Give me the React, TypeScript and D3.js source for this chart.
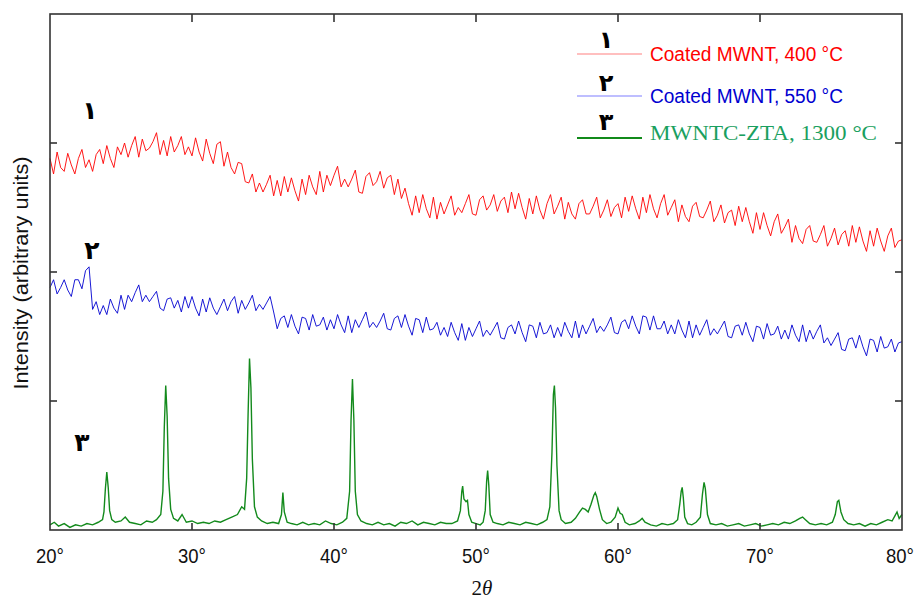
import React, { useEffect, useRef } from 'react';
import * as d3 from 'd3';

// XRD scans, 2θ from 20° to 80°, one reading every 0.25°
const scanStart = 20;
const scanStep = 0.25;

const coated400 = [
  288, 276, 293, 281, 278, 292, 283, 276, 288, 295, 281, 287, 278, 291, 295, 284,
  298, 288, 281, 297, 291, 300, 289, 298, 305, 289, 303, 294, 296, 301, 308, 291,
  302, 290, 305, 293, 298, 305, 291, 297, 290, 304, 293, 286, 303, 292, 284, 299,
  301, 282, 293, 281, 276, 285, 284, 270, 269, 276, 262, 269, 262, 268, 275, 259,
  271, 259, 274, 262, 273, 263, 255, 272, 260, 275, 266, 260, 278, 262, 275, 267,
  275, 282, 266, 272, 266, 272, 279, 262, 261, 274, 277, 267, 270, 278, 265, 273,
  275, 260, 272, 257, 265, 253, 244, 259, 246, 260, 249, 242, 258, 241, 254, 245,
  252, 259, 244, 250, 246, 253, 260, 245, 244, 256, 259, 248, 252, 260, 247, 255,
  258, 246, 262, 249, 261, 250, 241, 257, 245, 259, 248, 241, 253, 260, 245, 251,
  258, 241, 254, 245, 241, 253, 256, 245, 245, 251, 258, 242, 248, 256, 243, 250,
  253, 242, 258, 247, 259, 249, 241, 258, 246, 260, 249, 242, 253, 260, 244, 250,
  256, 239, 252, 243, 239, 251, 254, 243, 242, 248, 255, 239, 244, 252, 238, 246,
  248, 236, 251, 239, 250, 239, 230, 246, 233, 246, 236, 228, 239, 245, 230, 235,
  241, 223, 236, 226, 222, 233, 236, 224, 223, 229, 236, 220, 226, 234, 221, 229,
  232, 220, 236, 223, 235, 224, 216, 232, 220, 234, 224, 216, 228, 234, 219, 224,
  225,
];

const coated550 = [
  188, 194, 183, 188, 194, 186, 181, 194, 194, 187, 201, 204, 171, 177, 167, 174,
  167, 179, 172, 168, 182, 171, 182, 177, 184, 190, 177, 182, 177, 181, 185, 172,
  170, 179, 180, 172, 178, 169, 181, 172, 181, 172, 166, 179, 169, 180, 172, 167,
  173, 179, 170, 177, 181, 168, 178, 171, 176, 182, 170, 175, 171, 176, 181, 169,
  156, 164, 166, 157, 167, 158, 152, 165, 164, 155, 167, 158, 159, 165, 155, 163,
  156, 167, 159, 153, 166, 153, 163, 157, 163, 169, 157, 161, 157, 162, 168, 156,
  155, 164, 166, 157, 167, 158, 151, 164, 163, 153, 165, 155, 156, 161, 151, 157,
  150, 161, 153, 147, 160, 147, 157, 150, 156, 162, 150, 155, 151, 156, 161, 149,
  148, 157, 159, 152, 162, 153, 146, 159, 158, 149, 161, 152, 153, 159, 149, 157,
  150, 161, 154, 149, 162, 149, 159, 152, 158, 164, 153, 158, 154, 159, 165, 153,
  152, 161, 163, 156, 166, 158, 152, 166, 165, 155, 166, 156, 156, 162, 152, 159,
  152, 163, 155, 149, 162, 149, 159, 151, 157, 163, 151, 156, 152, 157, 162, 150,
  149, 158, 159, 151, 161, 152, 146, 158, 157, 148, 160, 151, 152, 158, 148, 155,
  148, 159, 151, 146, 159, 146, 155, 148, 154, 159, 145, 149, 143, 148, 153, 140,
  139, 148, 149, 141, 151, 142, 135, 148, 147, 138, 150, 141, 142, 148, 138, 145,
  146,
];

// sintered sample: [2θ, intensity]
const zta1300 = [
  [20.0, 4], [20.3, 6], [20.6, 3], [21.0, 5], [21.4, 2], [21.8, 4], [22.2, 3], [22.6, 5],
  [23.0, 4], [23.4, 6], [23.7, 8], [23.8, 14], [23.9, 32], [24.0, 45], [24.1, 33], [24.2, 15],
  [24.35, 8], [24.6, 6], [25.0, 7], [25.3, 10], [25.6, 6], [26.0, 5], [26.4, 4], [26.8, 7],
  [27.2, 6], [27.5, 8], [27.8, 12], [27.95, 30], [28.05, 80], [28.15, 112], [28.25, 88],
  [28.35, 40], [28.5, 16], [28.7, 9], [29.0, 7], [29.3, 12], [29.6, 6], [30.0, 7], [30.4, 5],
  [30.8, 6], [31.2, 5], [31.6, 7], [32.0, 6], [32.4, 8], [32.8, 10], [33.2, 12], [33.5, 18],
  [33.7, 16], [33.85, 40], [33.95, 90], [34.05, 133], [34.15, 110], [34.25, 55], [34.4, 18],
  [34.6, 10], [34.9, 7], [35.3, 5], [35.7, 6], [36.1, 5], [36.3, 12], [36.4, 29], [36.5, 14],
  [36.7, 6], [37.0, 5], [37.4, 4], [37.8, 6], [38.2, 4], [38.6, 5], [39.0, 4], [39.4, 7],
  [39.8, 5], [40.2, 4], [40.6, 6], [40.9, 9], [41.1, 30], [41.2, 85], [41.3, 117], [41.4, 85],
  [41.5, 30], [41.65, 12], [41.9, 7], [42.3, 5], [42.7, 4], [43.1, 6], [43.5, 4], [43.9, 5],
  [44.3, 3], [44.7, 6], [45.1, 5], [45.5, 7], [45.9, 4], [46.3, 6], [46.7, 5], [47.1, 4],
  [47.5, 6], [47.9, 5], [48.3, 5], [48.7, 7], [48.9, 15], [49.0, 30], [49.06, 34], [49.15, 24],
  [49.3, 22], [49.4, 23], [49.5, 12], [49.7, 6], [50.0, 5], [50.3, 4], [50.5, 6], [50.65, 15],
  [50.75, 38], [50.82, 46], [50.9, 35], [51.0, 12], [51.2, 6], [51.5, 5], [51.9, 4], [52.3, 6],
  [52.7, 5], [53.1, 4], [53.5, 6], [53.9, 5], [54.3, 4], [54.7, 6], [55.0, 8], [55.2, 18],
  [55.35, 60], [55.45, 105], [55.52, 112], [55.6, 95], [55.7, 50], [55.85, 15], [56.0, 8],
  [56.3, 5], [56.7, 6], [57.0, 9], [57.3, 14], [57.5, 17], [57.7, 16], [57.9, 14], [58.1, 20],
  [58.3, 27], [58.4, 29], [58.5, 26], [58.7, 16], [58.9, 8], [59.2, 5], [59.5, 6], [59.8, 10],
  [60.0, 17], [60.15, 13], [60.3, 12], [60.5, 6], [60.8, 4], [61.2, 5], [61.5, 7], [61.7, 9],
  [61.9, 6], [62.3, 4], [62.7, 3], [63.1, 5], [63.5, 4], [63.9, 5], [64.2, 8], [64.35, 20],
  [64.45, 30], [64.52, 33], [64.6, 25], [64.7, 10], [64.9, 5], [65.2, 4], [65.5, 6], [65.8, 10],
  [65.95, 28], [66.06, 37], [66.15, 32], [66.3, 12], [66.5, 5], [66.9, 4], [67.3, 5], [67.7, 3],
  [68.1, 4], [68.5, 5], [68.9, 3], [69.3, 4], [69.7, 5], [70.1, 3], [70.5, 4], [70.9, 5],
  [71.3, 4], [71.7, 6], [72.1, 5], [72.5, 7], [72.8, 9], [73.0, 10], [73.2, 8], [73.5, 5],
  [73.9, 4], [74.3, 5], [74.7, 4], [75.1, 6], [75.3, 12], [75.45, 22], [75.55, 23], [75.7, 14],
  [75.9, 8], [76.2, 5], [76.6, 4], [77.0, 5], [77.4, 3], [77.8, 5], [78.2, 4], [78.6, 6],
  [79.0, 8], [79.3, 7], [79.5, 11], [79.65, 14], [79.8, 9], [80.0, 12],
];

const xTicks = [20, 30, 40, 50, 60, 70, 80];
const yTicks = [100, 200, 300];
const legendLabels = ['Coated MWNT, 400 °C', 'Coated MWNT, 550 °C', 'MWNTC-ZTA, 1300 °C'];
const curveNumbers = ['۱', '۲', '۳'];

export default function App() {
  const svgRef = useRef(null);

  useEffect(() => {
    const svg = d3.select(svgRef.current);
    svg.selectAll('*').remove();

    const left = 50, right = 902, top = 14, bottom = 530;
    const x = d3.scaleLinear().domain([20, 80]).range([left, right]);
    const y = d3.scaleLinear().domain([0, 400]).range([bottom, top]);

    const line = d3.line().x(d => x(d[0])).y(d => y(d[1]));
    const toPairs = arr => arr.map((v, i) => [scanStart + i * scanStep, v]);

    svg.append('path')
      .attr('d', line(toPairs(coated400)))
      .attr('fill', 'none').attr('stroke', '#ff0000').attr('stroke-width', 0.9);
    svg.append('path')
      .attr('d', line(toPairs(coated550)))
      .attr('fill', 'none').attr('stroke', '#0000d0').attr('stroke-width', 0.9);
    svg.append('path')
      .attr('d', line(zta1300))
      .attr('fill', 'none').attr('stroke', '#138a1c').attr('stroke-width', 1.4);

    // frame + inward ticks
    svg.append('rect')
      .attr('x', left).attr('y', top)
      .attr('width', right - left).attr('height', bottom - top)
      .attr('fill', 'none').attr('stroke', '#333').attr('stroke-width', 1.6);

    const tk = svg.append('g').attr('stroke', '#333').attr('stroke-width', 1.6);
    xTicks.slice(1, -1).forEach(t => {
      tk.append('line').attr('x1', x(t)).attr('x2', x(t)).attr('y1', top).attr('y2', top + 8);
      tk.append('line').attr('x1', x(t)).attr('x2', x(t)).attr('y1', bottom).attr('y2', bottom - 7);
    });
    yTicks.forEach(t => {
      tk.append('line').attr('x1', left).attr('x2', left + 7).attr('y1', y(t)).attr('y2', y(t));
      tk.append('line').attr('x1', right).attr('x2', right - 7).attr('y1', y(t)).attr('y2', y(t));
    });

    svg.selectAll('text.xt')
      .data(xTicks)
      .enter()
      .append('text')
      .attr('x', d => Math.min(x(d), 900))
      .attr('y', 563)
      .attr('text-anchor', 'middle')
      .attr('font-family', 'Liberation Sans, Arial, sans-serif')
      .attr('font-size', 21)
      .attr('fill', '#111')
      .attr('textLength', 28)
      .attr('lengthAdjust', 'spacingAndGlyphs')
      .text(d => `${d}°`);

    const xt = svg.append('text')
      .attr('x', 482).attr('y', 595)
      .attr('text-anchor', 'middle')
      .attr('font-family', 'Liberation Serif, Times New Roman, serif')
      .attr('font-size', 21)
      .attr('fill', '#111');
    xt.append('tspan').text('2');
    xt.append('tspan').attr('font-style', 'italic').text('θ');

    svg.append('text')
      .attr('transform', 'translate(28,273) rotate(-90)')
      .attr('text-anchor', 'middle')
      .attr('font-family', 'Liberation Sans, Arial, sans-serif')
      .attr('font-size', 20)
      .attr('fill', '#111')
      .attr('textLength', 233)
      .attr('lengthAdjust', 'spacingAndGlyphs')
      .text('Intensity (arbitrary units)');

    // legend
    const legendColors = [
      { line: '#ff8080', text: '#ff0000', width: 1.2, font: 'Liberation Sans, Arial, sans-serif', size: 20, len: 193 },
      { line: '#7f7fff', text: '#0000d0', width: 1.2, font: 'Liberation Sans, Arial, sans-serif', size: 20, len: 193 },
      { line: '#118a1a', text: '#1aa060', width: 2.2, font: 'Liberation Serif, Times New Roman, serif', size: 21, len: 227 },
    ];
    const legendY = [54, 96, 138];
    const textY = [61, 103, 140];
    const numY = [48, 91, 130];
    legendLabels.forEach((label, i) => {
      const c = legendColors[i];
      svg.append('line')
        .attr('x1', 577).attr('x2', 642)
        .attr('y1', legendY[i]).attr('y2', legendY[i])
        .attr('stroke', c.line).attr('stroke-width', c.width);
      svg.append('text')
        .attr('x', 650).attr('y', textY[i])
        .attr('font-family', c.font)
        .attr('font-size', c.size)
        .attr('fill', c.text)
        .attr('textLength', c.len)
        .attr('lengthAdjust', 'spacingAndGlyphs')
        .text(label);
      svg.append('text')
        .attr('x', 606).attr('y', numY[i])
        .attr('text-anchor', 'middle')
        .attr('font-family', 'DejaVu Sans, sans-serif')
        .attr('font-weight', 'bold')
        .attr('font-size', 24)
        .attr('fill', '#000')
        .text(curveNumbers[i]);
    });

    // curve numbers inside the plot
    const tagPos = [[90, 119], [92, 259], [82, 451]];
    curveNumbers.forEach((n, i) => {
      svg.append('text')
        .attr('x', tagPos[i][0]).attr('y', tagPos[i][1])
        .attr('text-anchor', 'middle')
        .attr('font-family', 'DejaVu Sans, sans-serif')
        .attr('font-weight', 'bold')
        .attr('font-size', 25)
        .attr('fill', '#000')
        .text(n);
    });
  }, []);

  return (
    <svg
      ref={svgRef}
      width={917}
      height={601}
      style={{ position: 'absolute', left: 0, top: 0, background: '#fff' }}
    />
  );
}
